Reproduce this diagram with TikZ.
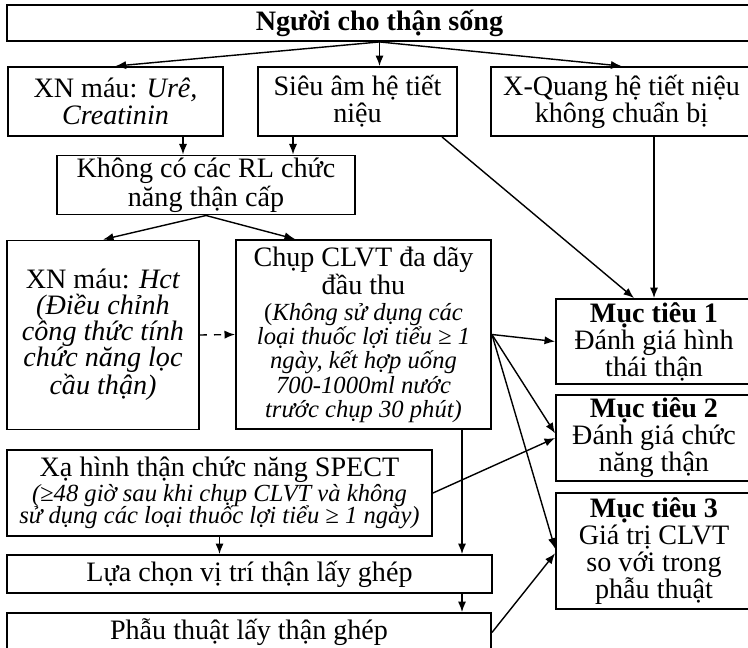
\documentclass[tikz,border=0pt]{standalone}
\usepackage{fontspec}
\setmainfont{Liberation Serif}
\usetikzlibrary{arrows.meta}

\begin{document}
\begin{tikzpicture}[x=0.015cm,y=-0.015cm,
    box/.style={draw,rectangle,line width=0.8pt,inner sep=1pt,align=center,font=\fontsize{12}{11.5}\selectfont},
    link/.style={->,line width=0.6pt},
    >={Latex[length=4.5pt,width=3.5pt]}]
    \clip (0,0) rectangle (748,647);

    \node [box,minimum width=11.175cm,minimum height=0.54cm](a)at(379.5,23){\textbf{Người cho thận sống}};
    \node [box,minimum width=3.225cm,minimum height=1.035cm](b)at(115.5,101.5){XN máu: \textit{Urê,}\\\textit{Creatinin}};
    \node [box,minimum width=2.985cm,minimum height=1.035cm](c)at(357.5,101.5){Siêu âm hệ tiết\\niệu};
    \node [box,minimum width=3.915cm,minimum height=1.035cm](d)at(621.5,101.5){X-Quang hệ tiết niệu\\không chuẩn bị};
    \node [box,font=\fontsize{12}{10.8}\selectfont,minimum width=4.47cm,minimum height=0.84cm](e)at(206,185){Không có các RL chức\\năng thận cấp};
    \node [box,font=\fontsize{12}{11}\selectfont,minimum width=2.88cm,minimum height=2.835cm](f)at(103,335){XN máu: \textit{Hct}\\\textit{(Điều chỉnh}\\\textit{công thức tính}\\\textit{chức năng lọc}\\\textit{cầu thận)}};
    \node [box,font=\fontsize{12}{11}\selectfont,minimum width=3.825cm,minimum height=2.835cm](g)at(363.5,334.5){Chụp CLVT đa dãy\\đầu thu\\{\fontsize{10.5}{10}\selectfont(\textit{Không sử dụng các}}\\[-0.7pt]{\fontsize{10.5}{10}\selectfont\itshape loại thuốc lợi tiểu ≥ 1}\\[-0.7pt]{\fontsize{10.5}{10}\selectfont\itshape ngày, kết hợp uống}\\[-0.7pt]{\fontsize{10.5}{10}\selectfont\itshape 700-1000ml nước}\\[-0.7pt]{\fontsize{10.5}{10}\selectfont\itshape trước chụp 30 phút)}};
    \node [box,font=\fontsize{12}{10.7}\selectfont,minimum width=6.375cm,minimum height=1.29cm](h)at(219.5,493){Xạ hình thận chức năng SPECT\\{\fontsize{10.5}{9.5}\selectfont\itshape (≥48 giờ sau khi chụp CLVT và không}\\[-1.3pt]{\fontsize{10.5}{9.5}\selectfont\itshape sử dụng các loại thuốc lợi tiểu ≥ 1 ngày)}};
    \node [box,minimum width=7.275cm,minimum height=0.57cm](i)at(249.5,574){Lựa chọn vị trí thận lấy ghép};
    \node [box,minimum width=7.26cm,minimum height=0.585cm](j)at(249,632.5){Phẫu thuật lấy thận ghép};
    \node [box,minimum width=2.94cm,minimum height=1.275cm](k)at(654,341.5){\textbf{Mục tiêu 1}\\Đánh giá hình\\thái thận};
    \node [box,minimum width=2.94cm,minimum height=1.29cm](l)at(654,438){\textbf{Mục tiêu 2}\\Đánh giá chức\\năng thận};
    \node [box,minimum width=2.94cm,minimum height=1.74cm](m)at(654,551){\textbf{Mục tiêu 3}\\Giá trị CLVT\\so với trong\\phẫu thuật};

    \draw [link](a.south)--(b.north);
    \draw [link](a.south)--(a.south |- c.north);
    \draw [link](a.south)--(d.north);
    \draw [link](b.south -| 183,0)--(e.north -| 183,0);
    \draw [link](c.south -| 293,0)--(e.north -| 293,0);
    \draw [link](e.south)--(f.north);
    \draw [link](e.south)--(g.north -| 295,0);
    \draw [link,dashed](f.east)--(g.west);
    \draw [link](c.south -| 442,0)--(k.north -| 634,0);
    \draw [link](d.south -| k.north)--(k.north);
    \draw [link](g.east)--(k.west);
    \draw [link](g.east)--([yshift=2pt]l.west);
    \draw [link](g.east)--([yshift=1pt]m.west);
    \draw [link](h.east)--(l.west);
    \draw [link](h.south)--(h.south |- i.north);
    \draw [link](g.south -| 462,0)--(i.north -| 462,0);
    \draw [link](i.south -| 462,0)--(j.north -| 462,0);
    \draw [link](j.east)--([yshift=-1pt]m.west);
\end{tikzpicture}
\end{document}
